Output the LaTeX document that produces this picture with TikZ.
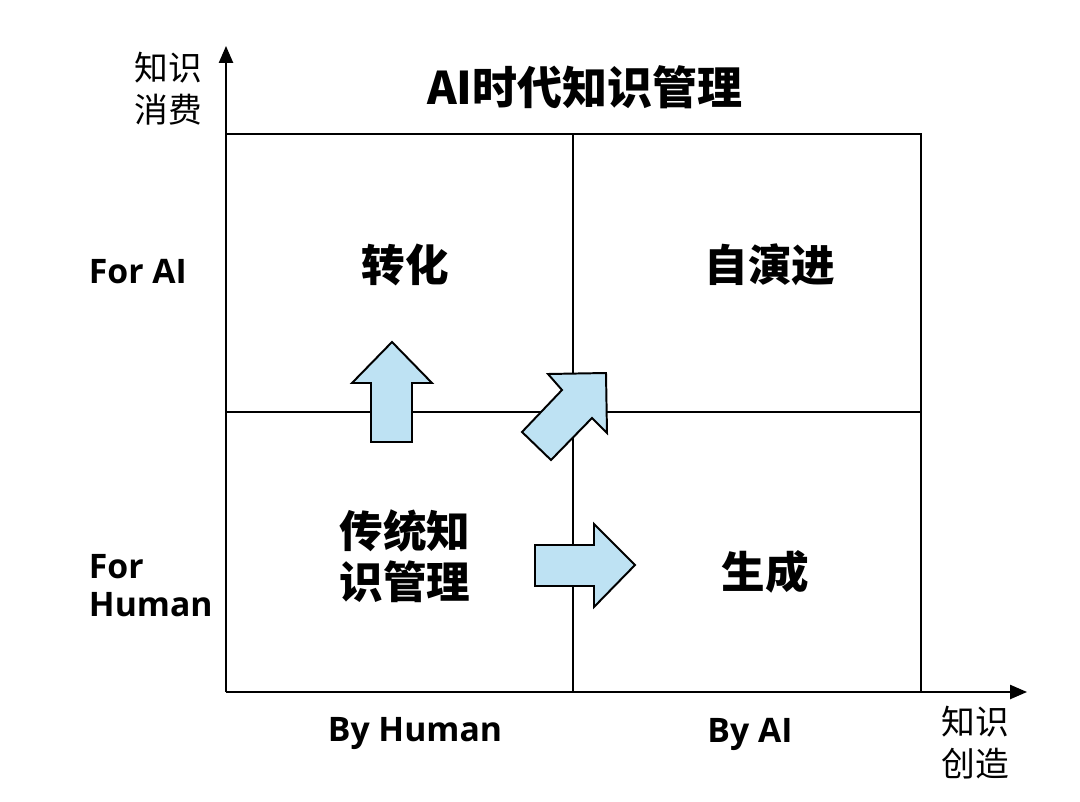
\documentclass[tikz,border=0pt]{standalone}
\usepackage{fontspec}
\setmainfont{Open Sans}
\newfontfamily\cjk{Noto Sans CJK SC}
\usetikzlibrary{arrows.meta, calc}

\definecolor{arrowblue}{RGB}{190,226,243}
\tikzset{
	gridline/.style={line width=1.4pt},
	axisline/.style={line width=1.4pt, -{Triangle[length=12pt,width=10pt]}},
	bigarrow/.style={fill=arrowblue, draw=black, line width=1.4pt, line join=miter},
	quadtext/.style={font=\cjk\bfseries\fontsize{31}{38}\selectfont, align=center},
	axistext/.style={font=\cjk\fontsize{24}{29}\selectfont, align=center},
	sidetext/.style={font=\bfseries\fontsize{24}{29}\selectfont, align=left},
}

\begin{document}
\begin{tikzpicture}[x=0.025cm, y=-0.025cm]
	\useasboundingbox (0,0) rectangle (1080,802);

	% corners of the grid
	\coordinate (o) at (226,692);
	\coordinate (tl) at (226,134);
	\coordinate (tr) at (921,134);
	\coordinate (br) at (921,692);
	\coordinate (mt) at (573,134);
	\coordinate (mb) at (573,692);
	\coordinate (ml) at (226,412);
	\coordinate (mr) at (921,412);
	\coordinate (xend) at (1027,692);
	\coordinate (yend) at (226,46);

	\draw[gridline] (tl) -- (tr) -- (br);
	\draw[gridline] (mt) -- (mb);
	\draw[gridline] (ml) -- (mr);
	\draw[axisline] (o) -- (xend);
	\draw[axisline] (o) -- (yend);

	% title and axis names
	\node[font=\cjk\bfseries\fontsize{32}{38}\selectfont] (title) at (585,87) {AI时代知识管理};
	\node[axistext] (ylabel) at (168,89) {知识\\[1pt]消费};
	\node[axistext] (xlabel) at (975,743) {知识\\[1pt]创造};

	\node[sidetext, anchor=west] (forai) at (84,272) {For AI};
	\node[sidetext, anchor=west] (forhuman) at (84,586) {For\\[-2pt]Human};
	\node[sidetext] (byhuman) at (415,734) {By Human};
	\node[sidetext] (byai) at (750,734) {By AI};

	% quadrants
	\node[quadtext] (zhuanhua) at (405,265) {转化};
	\node[quadtext] (ziyanjin) at (770,265) {自演进};
	\node[quadtext] (chuantong) at (405,556) {传统知\\[-2pt]识管理};
	\node[quadtext] (shengcheng) at (765,572) {生成};

	% block arrows
	\draw[bigarrow] (371,442) -- (371,383) -- (352,383) -- (392,342)
		-- (432,383) -- (412,383) -- (412,442) -- cycle;
	\draw[bigarrow] (535,545) -- (594,545) -- (594,524) -- (635,565)
		-- (594,607) -- (594,586) -- (535,586) -- cycle;
	\draw[bigarrow] (548,374) -- (606,373) -- (607,433) -- (592,418)
		-- (551,460) -- (522,432) -- (562,390) -- cycle;
\end{tikzpicture}
\end{document}
